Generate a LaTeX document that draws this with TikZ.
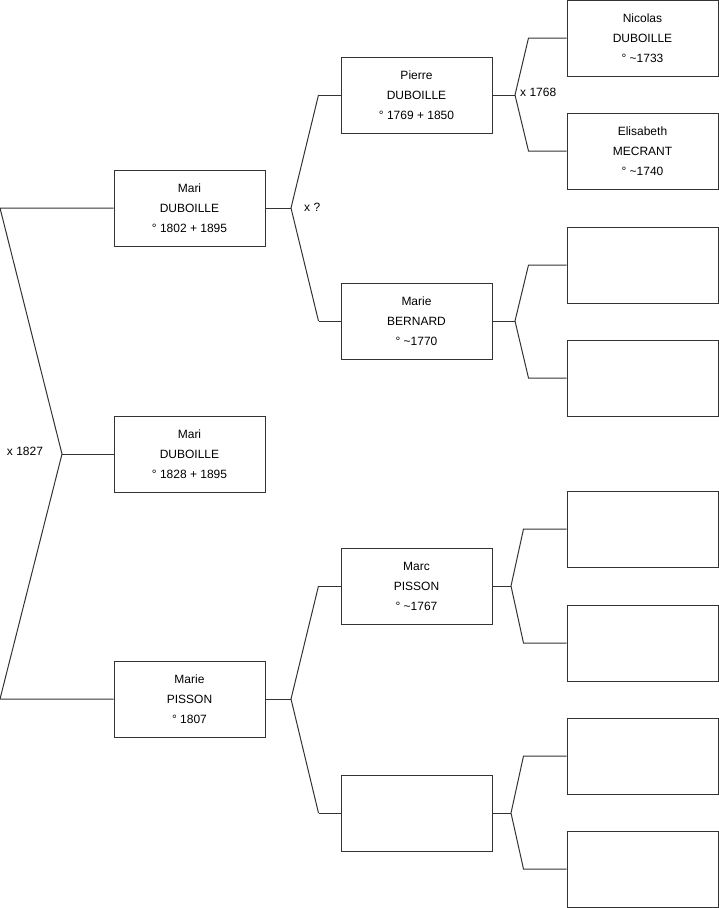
\documentclass[tikz,border=0pt]{standalone}
\usepackage{fontspec}
\setmainfont{Liberation Sans}
\begin{document}
\begin{tikzpicture}[x=1pt,y=-1pt,
    persona/.style={draw=black!80, line width=1pt, minimum width=151pt, minimum height=76pt,
      inner sep=0pt, align=center, font=\fontsize{12}{20}\selectfont},
    rama/.style={draw=black!80, line width=1pt},
    boda/.style={font=\fontsize{12}{14}\selectfont, inner sep=0pt}]
    \useasboundingbox (0,0) rectangle (719,908);

    % Hijos
    \node[persona] (mari) at (189.5,208) {Mari\\DUBOILLE\\° 1802 + 1895};
    \node[persona] (marihija) at (189.5,454) {Mari\\DUBOILLE\\° 1828 + 1895};
    \node[persona] (mariep) at (189.5,699) {Marie\\PISSON\\° 1807};

    % Padres
    \node[persona] (pierre) at (416.5,95) {Pierre\\DUBOILLE\\° 1769 + 1850};
    \node[persona] (marieb) at (416.5,321) {Marie\\BERNARD\\° \textasciitilde1770};
    \node[persona] (marc) at (416.5,586) {Marc\\PISSON\\° \textasciitilde1767};
    \node[persona] (vacio1) at (416.5,813) {};

    % Abuelos
    \node[persona] (nicolas) at (642.5,38) {Nicolas\\DUBOILLE\\° \textasciitilde1733};
    \node[persona] (elisabeth) at (642.5,151) {Elisabeth\\MECRANT\\° \textasciitilde1740};
    \node[persona] (vacio2) at (642.5,265) {};
    \node[persona] (vacio3) at (642.5,378) {};
    \node[persona] (vacio4) at (642.5,529) {};
    \node[persona] (vacio5) at (642.5,643) {};
    \node[persona] (vacio6) at (642.5,756) {};
    \node[persona] (vacio7) at (642.5,869) {};

    % Horquillas
    \coordinate (f0) at (62,454);
    \coordinate (f1) at (291,208);
    \coordinate (f2) at (291,699);
    \coordinate (f3) at (515,95);
    \coordinate (f4) at (515,321);
    \coordinate (f5) at (511,586);
    \coordinate (f6) at (511,813);

    % Ramas
    \draw[rama] (mari.west) -- (mari.west -| 0,0) -- (f0) -- (mariep.west -| 0,0) -- (mariep.west);
    \draw[rama] (f0) -- (marihija.west);
    \draw[rama] (mari.east) -- (f1);
    \draw[rama] ([xshift=-22pt]pierre.west) -- (f1) -- ([xshift=-22pt]marieb.west);
    \draw[rama] ([xshift=-22pt]pierre.west) -- (pierre.west);
    \draw[rama] ([xshift=-22pt]marieb.west) -- (marieb.west);
    \draw[rama] (mariep.east) -- (f2);
    \draw[rama] ([xshift=-22pt]marc.west) -- (f2) -- ([xshift=-22pt]vacio1.west);
    \draw[rama] ([xshift=-22pt]marc.west) -- (marc.west);
    \draw[rama] ([xshift=-22pt]vacio1.west) -- (vacio1.west);
    \draw[rama] (pierre.east) -- (f3);
    \draw[rama] (nicolas.west) -- ++(-38,0) -- (f3) -- ([xshift=-38pt]elisabeth.west) -- (elisabeth.west);
    \draw[rama] (marieb.east) -- (f4);
    \draw[rama] (vacio2.west) -- ++(-38,0) -- (f4) -- ([xshift=-38pt]vacio3.west) -- (vacio3.west);
    \draw[rama] (marc.east) -- (f5);
    \draw[rama] (vacio4.west) -- ++(-43,0) -- (f5) -- ([xshift=-43pt]vacio5.west) -- (vacio5.west);
    \draw[rama] (vacio1.east) -- (f6);
    \draw[rama] (vacio6.west) -- ++(-43,0) -- (f6) -- ([xshift=-43pt]vacio7.west) -- (vacio7.west);

    % Matrimonios
    \node[boda] (boda0) at (25,451) {x 1827};
    \node[boda, anchor=west] (boda1) at (304,207) {x ?};
    \node[boda, anchor=west] (boda3) at (520,92) {x 1768};
\end{tikzpicture}
\end{document}
